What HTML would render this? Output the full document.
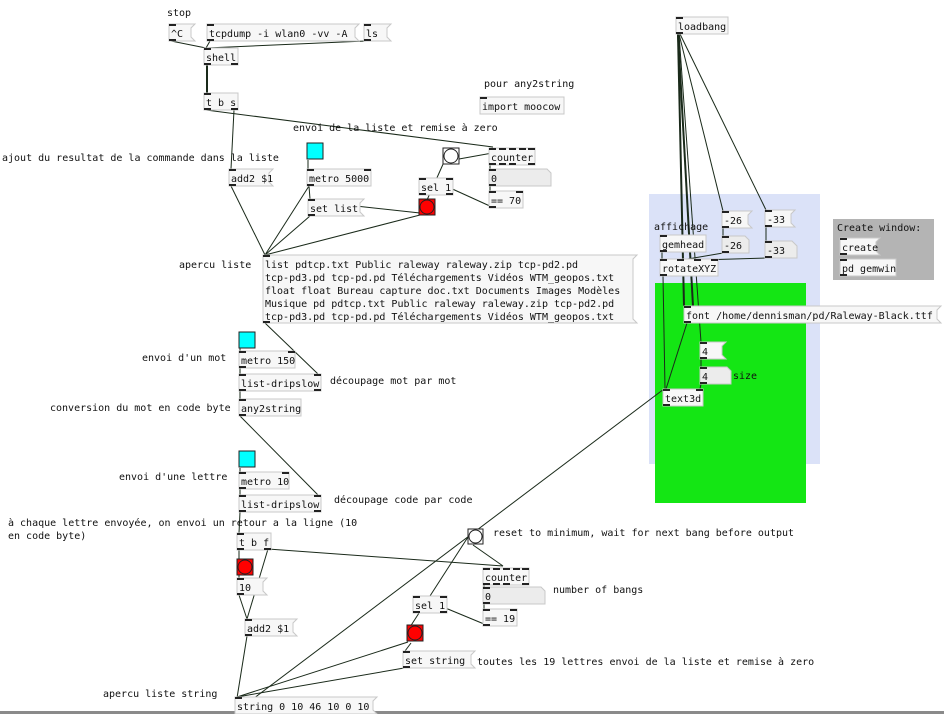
<!DOCTYPE html>
<html><head><meta charset="utf-8"><style>
html,body{margin:0;padding:0;background:#fff;}
svg{display:block;}
text{font-family:"DejaVu Sans Mono","Liberation Mono",monospace;font-size:10px;fill:#111;}
.o{fill:#f7f7f7;stroke:#c8c8c8;stroke-width:1;}
.n{fill:#ececec;stroke:#c8c8c8;stroke-width:1;}
.p{fill:#222;}
line{stroke:#1a2a1a;stroke-width:1;}
.t{stroke-width:2;}
</style></head><body>
<svg width="944" height="714" viewBox="0 0 944 714" xmlns="http://www.w3.org/2000/svg">
<!-- canvases -->
<rect x="649" y="194" width="171" height="270" fill="#dbe2f8"/>
<rect x="655" y="283" width="151" height="220" fill="#14e614"/>
<rect x="833" y="219" width="101" height="61" fill="#b4b4b4"/>
<rect x="0" y="711" width="944" height="3" fill="#8a8a8a"/>

<!-- connections -->
<line x1="171" y1="41" x2="206" y2="48"/>
<line x1="210" y1="41" x2="206" y2="48"/>
<line x1="366" y1="41" x2="206" y2="48"/>
<line class="t" x1="207" y1="65" x2="207" y2="93"/>
<line x1="234" y1="110" x2="231" y2="169"/>
<line x1="206" y1="110" x2="493" y2="147"/>
<line x1="231" y1="186" x2="265" y2="255"/>
<line x1="308" y1="160" x2="308" y2="169"/>
<line x1="309" y1="186" x2="265" y2="255"/>
<line x1="309" y1="186" x2="310" y2="199"/>
<line x1="310" y1="216" x2="265" y2="255"/>
<line x1="310" y1="201" x2="420" y2="213"/>
<line x1="420" y1="215" x2="265" y2="255"/>
<line x1="444" y1="162" x2="427" y2="200"/>
<line x1="459" y1="159" x2="520" y2="148"/>
<line x1="490" y1="165" x2="490" y2="170"/>
<line x1="490" y1="186" x2="490" y2="191"/>
<line x1="437" y1="182" x2="492" y2="207"/>
<line x1="240" y1="348" x2="240" y2="351"/>
<line x1="240" y1="368" x2="240" y2="374"/>
<line x1="265" y1="323" x2="318" y2="374"/>
<line x1="240" y1="391" x2="240" y2="399"/>
<line x1="240" y1="416" x2="318" y2="495"/>
<line x1="240" y1="468" x2="240" y2="472"/>
<line x1="240" y1="489" x2="240" y2="495"/>
<line x1="240" y1="512" x2="239" y2="533"/>
<line x1="239" y1="550" x2="239" y2="559"/>
<line x1="239" y1="575" x2="239" y2="578"/>
<line x1="239" y1="595" x2="247" y2="619"/>
<line x1="268" y1="549" x2="247" y2="619"/>
<line x1="268" y1="549" x2="503" y2="566"/>
<line x1="473" y1="545" x2="503" y2="566"/>
<line x1="247" y1="636" x2="237" y2="698"/>
<line x1="237" y1="711" x2="664" y2="389"/>
<line x1="237" y1="697" x2="408" y2="642"/>
<line x1="237" y1="697" x2="404" y2="668"/>
<line x1="468" y1="537" x2="410" y2="627"/>
<line x1="484" y1="585" x2="484" y2="587"/>
<line x1="484" y1="604" x2="484" y2="609"/>
<line x1="443" y1="607" x2="484" y2="624"/>
<line x1="411" y1="643" x2="405" y2="651"/>
<!-- right side -->
<line class="t" x1="678" y1="34" x2="684" y2="306"/>
<line class="t" x1="678" y1="34" x2="693" y2="306"/>
<line x1="679" y1="34" x2="701" y2="342"/>
<line x1="679" y1="34" x2="723" y2="211"/>
<line x1="680" y1="34" x2="766" y2="210"/>
<line x1="723" y1="228" x2="723" y2="236"/>
<line x1="723" y1="253" x2="682" y2="260"/>
<line x1="766" y1="227" x2="766" y2="241"/>
<line x1="766" y1="258" x2="700" y2="260"/>
<line x1="662" y1="252" x2="662" y2="259"/>
<line x1="663" y1="276" x2="665" y2="389"/>
<line x1="687" y1="323" x2="666" y2="389"/>
<line x1="701" y1="359" x2="701" y2="367"/>
<line x1="701" y1="384" x2="700" y2="389"/>

<!-- bangs -->
<rect x="307" y="143" width="16" height="16" fill="#00ffff" stroke="#222"/>
<rect x="239" y="332" width="16" height="16" fill="#00ffff" stroke="#222"/>
<rect x="239" y="451" width="16" height="16" fill="#00ffff" stroke="#222"/>
<rect x="443" y="148" width="16" height="16" fill="#fff" stroke="#222"/><circle cx="451" cy="156" r="7" fill="#fff" stroke="#222"/>
<rect x="468" y="529" width="15" height="15" fill="#fff" stroke="#222"/><circle cx="475.5" cy="536.5" r="6.5" fill="#fff" stroke="#222"/>
<rect x="419" y="199" width="16" height="16" fill="#f00" stroke="#222"/><circle cx="427" cy="207" r="7" fill="#f00" stroke="#222"/>
<rect x="237" y="559" width="16" height="16" fill="#f00" stroke="#222"/><circle cx="245" cy="567" r="7" fill="#f00" stroke="#222"/>
<rect x="407" y="625" width="16" height="16" fill="#f00" stroke="#222"/><circle cx="415" cy="633" r="7" fill="#f00" stroke="#222"/>

<!-- message boxes -->
<polygon class="o" points="169,24 195,24 191,28 191,37 195,41 169,41"/><text x="171" y="37">^C</text>
<polygon class="o" points="207,24 359,24 355,28 355,37 359,41 207,41"/><text x="209" y="37">tcpdump -i wlan0 -vv -A</text>
<polygon class="o" points="364,24 391,24 387,28 387,37 391,41 364,41"/><text x="366" y="37">ls</text>
<polygon class="o" points="229,169 273,169 269,173 269,182 273,186 229,186"/><text x="231" y="182">add2 $1</text>
<polygon class="o" points="308,199 364,199 360,203 360,212 364,216 308,216"/><text x="310" y="212">set list</text>
<polygon class="o" points="263,255 637,255 633,259 633,319 637,323 263,323"/>
<text x="265" y="268">list pdtcp.txt Public raleway raleway.zip tcp-pd2.pd</text>
<text x="265" y="281">tcp-pd3.pd tcp-pd.pd Téléchargements Vidéos WTM_geopos.txt</text>
<text x="265" y="294">float float Bureau capture doc.txt Documents Images Modèles</text>
<text x="265" y="307">Musique pd pdtcp.txt Public raleway raleway.zip tcp-pd2.pd</text>
<text x="265" y="320">tcp-pd3.pd tcp-pd.pd Téléchargements Vidéos WTM_geopos.txt</text>
<polygon class="o" points="237,578 267,578 263,582 263,591 267,595 237,595"/><text x="239" y="591">10</text>
<polygon class="o" points="245,619 297,619 293,623 293,632 297,636 245,636"/><text x="247" y="632">add2 $1</text>
<polygon class="o" points="403,651 475,651 471,655 471,664 475,668 403,668"/><text x="405" y="664">set string</text>
<polygon class="o" points="235,697 377,697 373,701 373,710 377,714 235,714"/><text x="237" y="710">string 0 10 46 10 0 10</text>
<polygon class="o" points="722,211 752,211 748,215 748,224 752,228 722,228"/><text x="724" y="224">-26</text>
<polygon class="o" points="765,210 795,210 791,214 791,223 795,227 765,227"/><text x="767" y="223">-33</text>
<polygon class="o" points="684,306 941,306 937,310 937,319 941,323 684,323"/><text x="686" y="319">font /home/dennisman/pd/Raleway-Black.ttf</text>
<polygon class="o" points="700,342 726,342 722,346 722,355 726,359 700,359"/><text x="702" y="355">4</text>
<polygon class="o" points="840,238 880,238 876,242 876,251 880,255 840,255"/><text x="842" y="251">create</text>

<!-- number atoms -->
<polygon class="n" points="489,169 547,169 551,173 551,186 489,186"/><text x="491" y="182">0</text>
<polygon class="n" points="483,587 541,587 545,591 545,604 483,604"/><text x="485" y="600">0</text>
<polygon class="n" points="722,236 745,236 749,240 749,253 722,253"/><text x="724" y="249">-26</text>
<polygon class="n" points="765,241 792,241 797,246 797,258 765,258"/><text x="767" y="254">-33</text>
<polygon class="n" points="700,367 727,367 731,371 731,384 700,384"/><text x="702" y="380">4</text>

<!-- objects -->
<rect class="o" x="204" y="48" width="34" height="17"/><text x="206" y="61">shell</text>
<rect class="o" x="204" y="93" width="34" height="17"/><text x="206" y="106">t b s</text>
<rect class="o" x="480" y="97" width="84" height="17"/><text x="482" y="110">import moocow</text>
<rect class="o" x="307" y="169" width="64" height="17"/><text x="309" y="182">metro 5000</text>
<rect class="o" x="419" y="178" width="34" height="17"/><text x="421" y="191">sel 1</text>
<rect class="o" x="489" y="148" width="46" height="17"/><text x="491" y="161">counter</text>
<rect class="o" x="489" y="191" width="34" height="17"/><text x="491" y="204">== 70</text>
<rect class="o" x="239" y="351" width="56" height="17"/><text x="241" y="364">metro 150</text>
<rect class="o" x="239" y="374" width="82" height="17"/><text x="241" y="387">list-dripslow</text>
<rect class="o" x="239" y="399" width="62" height="17"/><text x="241" y="412">any2string</text>
<rect class="o" x="239" y="472" width="50" height="17"/><text x="241" y="485">metro 10</text>
<rect class="o" x="239" y="495" width="82" height="17"/><text x="241" y="508">list-dripslow</text>
<rect class="o" x="237" y="533" width="34" height="17"/><text x="239" y="546">t b f</text>
<rect class="o" x="483" y="568" width="46" height="17"/><text x="485" y="581">counter</text>
<rect class="o" x="413" y="596" width="34" height="17"/><text x="415" y="609">sel 1</text>
<rect class="o" x="483" y="609" width="34" height="17"/><text x="485" y="622">== 19</text>
<rect class="o" x="676" y="17" width="52" height="17"/><text x="678" y="30">loadbang</text>
<rect class="o" x="660" y="235" width="46" height="17"/><text x="662" y="248">gemhead</text>
<rect class="o" x="660" y="259" width="58" height="17"/><text x="662" y="272">rotateXYZ</text>
<rect class="o" x="663" y="389" width="40" height="17"/><text x="665" y="402">text3d</text>
<rect class="o" x="840" y="259" width="56" height="17"/><text x="842" y="272">pd gemwin</text>

<!-- inlets/outlets -->
<g class="p">
<rect x="169" y="24" width="7" height="2"/><rect x="169" y="39" width="7" height="2"/>
<rect x="207" y="24" width="7" height="2"/><rect x="207" y="39" width="7" height="2"/>
<rect x="364" y="24" width="7" height="2"/><rect x="364" y="39" width="7" height="2"/>
<rect x="204" y="48" width="7" height="2"/><rect x="204" y="63" width="7" height="2"/><rect x="231" y="63" width="7" height="2"/>
<rect x="204" y="93" width="7" height="2"/><rect x="204" y="108" width="7" height="2"/><rect x="231" y="108" width="7" height="2"/>
<rect x="480" y="97" width="7" height="2"/>
<rect x="229" y="169" width="7" height="2"/><rect x="229" y="184" width="7" height="2"/>
<rect x="307" y="169" width="7" height="2"/><rect x="364" y="169" width="7" height="2"/><rect x="307" y="184" width="7" height="2"/>
<rect x="308" y="199" width="7" height="2"/><rect x="308" y="214" width="7" height="2"/>
<rect x="419" y="178" width="7" height="2"/><rect x="446" y="178" width="7" height="2"/><rect x="419" y="193" width="7" height="2"/><rect x="446" y="193" width="7" height="2"/>
<rect x="489" y="148" width="7" height="2"/><rect x="499" y="148" width="7" height="2"/><rect x="509" y="148" width="7" height="2"/><rect x="519" y="148" width="7" height="2"/><rect x="528" y="148" width="7" height="2"/>
<rect x="489" y="163" width="7" height="2"/><rect x="499" y="163" width="7" height="2"/><rect x="509" y="163" width="7" height="2"/><rect x="528" y="163" width="7" height="2"/>
<rect x="489" y="169" width="7" height="2"/><rect x="489" y="184" width="7" height="2"/>
<rect x="489" y="191" width="7" height="2"/><rect x="516" y="191" width="7" height="2"/><rect x="489" y="206" width="7" height="2"/>
<rect x="263" y="255" width="7" height="2"/><rect x="263" y="321" width="7" height="2"/>
<rect x="239" y="351" width="7" height="2"/><rect x="288" y="351" width="7" height="2"/><rect x="239" y="366" width="7" height="2"/>
<rect x="239" y="374" width="7" height="2"/><rect x="314" y="374" width="7" height="2"/><rect x="239" y="389" width="7" height="2"/><rect x="314" y="389" width="7" height="2"/>
<rect x="239" y="399" width="7" height="2"/><rect x="239" y="414" width="7" height="2"/>
<rect x="239" y="472" width="7" height="2"/><rect x="282" y="472" width="7" height="2"/><rect x="239" y="487" width="7" height="2"/>
<rect x="239" y="495" width="7" height="2"/><rect x="314" y="495" width="7" height="2"/><rect x="239" y="510" width="7" height="2"/><rect x="314" y="510" width="7" height="2"/>
<rect x="237" y="533" width="7" height="2"/><rect x="237" y="548" width="7" height="2"/><rect x="264" y="548" width="7" height="2"/>
<rect x="237" y="578" width="7" height="2"/><rect x="237" y="593" width="7" height="2"/>
<rect x="245" y="619" width="7" height="2"/><rect x="245" y="634" width="7" height="2"/>
<rect x="483" y="568" width="7" height="2"/><rect x="493" y="568" width="7" height="2"/><rect x="503" y="568" width="7" height="2"/><rect x="513" y="568" width="7" height="2"/><rect x="522" y="568" width="7" height="2"/>
<rect x="483" y="583" width="7" height="2"/><rect x="493" y="583" width="7" height="2"/><rect x="503" y="583" width="7" height="2"/><rect x="522" y="583" width="7" height="2"/>
<rect x="483" y="587" width="7" height="2"/><rect x="483" y="602" width="7" height="2"/>
<rect x="413" y="596" width="7" height="2"/><rect x="440" y="596" width="7" height="2"/><rect x="413" y="611" width="7" height="2"/><rect x="440" y="611" width="7" height="2"/>
<rect x="483" y="609" width="7" height="2"/><rect x="510" y="609" width="7" height="2"/><rect x="483" y="624" width="7" height="2"/>
<rect x="403" y="651" width="7" height="2"/><rect x="403" y="666" width="7" height="2"/>
<rect x="235" y="697" width="7" height="2"/>
<rect x="676" y="17" width="7" height="2"/><rect x="676" y="32" width="7" height="2"/>
<rect x="660" y="235" width="7" height="2"/><rect x="660" y="250" width="7" height="2"/>
<rect x="660" y="259" width="7" height="2"/><rect x="677" y="259" width="7" height="2"/><rect x="694" y="259" width="7" height="2"/><rect x="711" y="259" width="7" height="2"/><rect x="660" y="274" width="7" height="2"/>
<rect x="722" y="211" width="7" height="2"/><rect x="722" y="226" width="7" height="2"/>
<rect x="722" y="236" width="7" height="2"/><rect x="722" y="251" width="7" height="2"/>
<rect x="765" y="210" width="7" height="2"/><rect x="765" y="225" width="7" height="2"/>
<rect x="765" y="241" width="7" height="2"/><rect x="765" y="256" width="7" height="2"/>
<rect x="684" y="306" width="7" height="2"/><rect x="684" y="321" width="7" height="2"/>
<rect x="700" y="342" width="7" height="2"/><rect x="700" y="357" width="7" height="2"/>
<rect x="700" y="367" width="7" height="2"/><rect x="700" y="382" width="7" height="2"/>
<rect x="663" y="389" width="7" height="2"/><rect x="696" y="389" width="7" height="2"/><rect x="663" y="404" width="7" height="2"/>
<rect x="840" y="238" width="7" height="2"/><rect x="840" y="253" width="7" height="2"/>
<rect x="840" y="259" width="7" height="2"/><rect x="840" y="274" width="7" height="2"/>
</g>

<!-- comments -->
<text x="167" y="16">stop</text>
<text x="484" y="87">pour any2string</text>
<text x="293" y="131">envoi de la liste et remise à zero</text>
<text x="2" y="161">ajout du resultat de la commande dans la liste</text>
<text x="179" y="268">apercu liste</text>
<text x="142" y="361">envoi d'un mot</text>
<text x="330" y="384">découpage mot par mot</text>
<text x="50" y="411">conversion du mot en code byte</text>
<text x="119" y="480">envoi d'une lettre</text>
<text x="334" y="503">découpage code par code</text>
<text x="8" y="526">à chaque lettre envoyée, on envoi un retour a la ligne (10</text>
<text x="8" y="539">en code byte)</text>
<text x="493" y="536">reset to minimum, wait for next bang before output</text>
<text x="553" y="593">number of bangs</text>
<text x="477" y="665">toutes les 19 lettres envoi de la liste et remise à zero</text>
<text x="103" y="697">apercu liste string</text>
<text x="654" y="230">affichage</text>
<text x="733" y="379">size</text>
<text x="837" y="231">Create window:</text>
</svg>
</body></html>
